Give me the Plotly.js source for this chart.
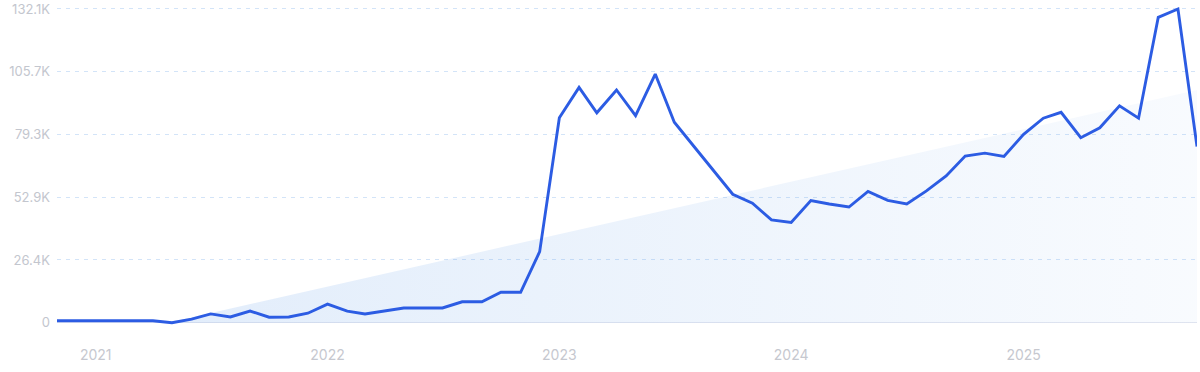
<!DOCTYPE html>
<html>
<head>
<meta charset="utf-8">
<script src="https://cdn.plot.ly/plotly-3.0.1.min.js"></script>
<style>
html,body{margin:0;padding:0;background:#fff;}
#chart{width:1200px;height:372px;}
</style>
</head>
<body>
<div id="chart"></div>
<script>
const months = [
  '2020-11-01','2020-12-01',
  '2021-01-01','2021-02-01','2021-03-01','2021-04-01','2021-05-01','2021-06-01',
  '2021-07-01','2021-08-01','2021-09-01','2021-10-01','2021-11-01','2021-12-01',
  '2022-01-01','2022-02-01','2022-03-01','2022-04-01','2022-05-01','2022-06-01',
  '2022-07-01','2022-08-01','2022-09-01','2022-10-01','2022-11-01','2022-12-01',
  '2023-01-01','2023-02-01','2023-03-01','2023-04-01','2023-05-01','2023-06-01',
  '2023-07-01','2023-08-01','2023-09-01','2023-10-01','2023-11-01','2023-12-01',
  '2024-01-01','2024-02-01','2024-03-01','2024-04-01','2024-05-01','2024-06-01',
  '2024-07-01','2024-08-01','2024-09-01','2024-10-01','2024-11-01','2024-12-01',
  '2025-01-01','2025-02-01','2025-03-01','2025-04-01','2025-05-01','2025-06-01',
  '2025-07-01','2025-08-01','2025-09-01','2025-10-01'
];
const searches = [
  800, 800,
  800, 800, 800, 800, 0, 1500,
  3700, 2400, 4900, 2300, 2400, 4000,
  7800, 4900, 3700, 5000, 6200, 6200,
  6200, 8800, 8800, 12800, 12800, 29900,
  86300, 99100, 88400, 98000, 87200, 104700,
  84400, 74200, 63900, 54100, 50300, 43300,
  42200, 51400, 50000, 48700, 55300, 51500,
  50000, 55500, 61800, 70200, 71400, 70000,
  79300, 86100, 88600, 77900, 82100, 91300,
  86100, 128600, 132100, 74200
];
const trendDates = ['2021-04-25', '2025-10-01'];
const trendValues = [0, 98000];
const yTickVals = [0, 26420, 52840, 79260, 105680, 132100];
const yTickText = ['0', '26.4K', '52.9K', '79.3K', '105.7K', '132.1K'];
const xTickVals = ['2021-01-01','2022-01-01','2023-01-01','2024-01-01','2025-01-01'];
const xTickText = ['2021','2022','2023','2024','2025'];

const traces = [
  {
    x: trendDates, y: trendValues, type: 'scatter', mode: 'lines',
    line: {width: 0, color: 'rgba(0,0,0,0)'},
    fill: 'tozeroy',
    fillgradient: {type: 'horizontal', colorscale: [[0, 'rgba(62,135,228,0.15)'], [1, 'rgba(62,135,228,0.035)']]},
    hoverinfo: 'skip', showlegend: false
  },
  {
    x: months, y: searches, type: 'scatter', mode: 'lines',
    line: {color: '#2c5ce3', width: 2.9},
    showlegend: false
  }
];

const layout = {
  width: 1200, height: 372,
  margin: {l: 57, r: 3, t: 6, b: 47},
  paper_bgcolor: '#ffffff', plot_bgcolor: '#ffffff',
  font: {family: 'Inter, "Open Sans", sans-serif', color: '#c3c6ce'},
  xaxis: {
    type: 'date',
    range: ['2020-11-01', '2025-10-01'],
    tickvals: xTickVals, ticktext: xTickText,
    showgrid: false, zeroline: false, showline: false, ticks: '',
    tickfont: {size: 14, color: '#c6c8cf'},
    ticklabelstandoff: 20
  },
  yaxis: {
    range: [-970, 133360],
    tickvals: yTickVals, ticktext: yTickText,
    showgrid: true, gridcolor: '#d3e4f8', griddash: '4px,5px', gridwidth: 1,
    zeroline: true, zerolinecolor: '#e3e6f0', zerolinewidth: 1.5,
    showline: false, ticks: '',
    tickfont: {size: 13, color: '#c3c6ce'},
    ticklabelstandoff: 6
  }
};

Plotly.newPlot('chart', traces, layout, {displayModeBar: false, staticPlot: true});
</script>
</body>
</html>
